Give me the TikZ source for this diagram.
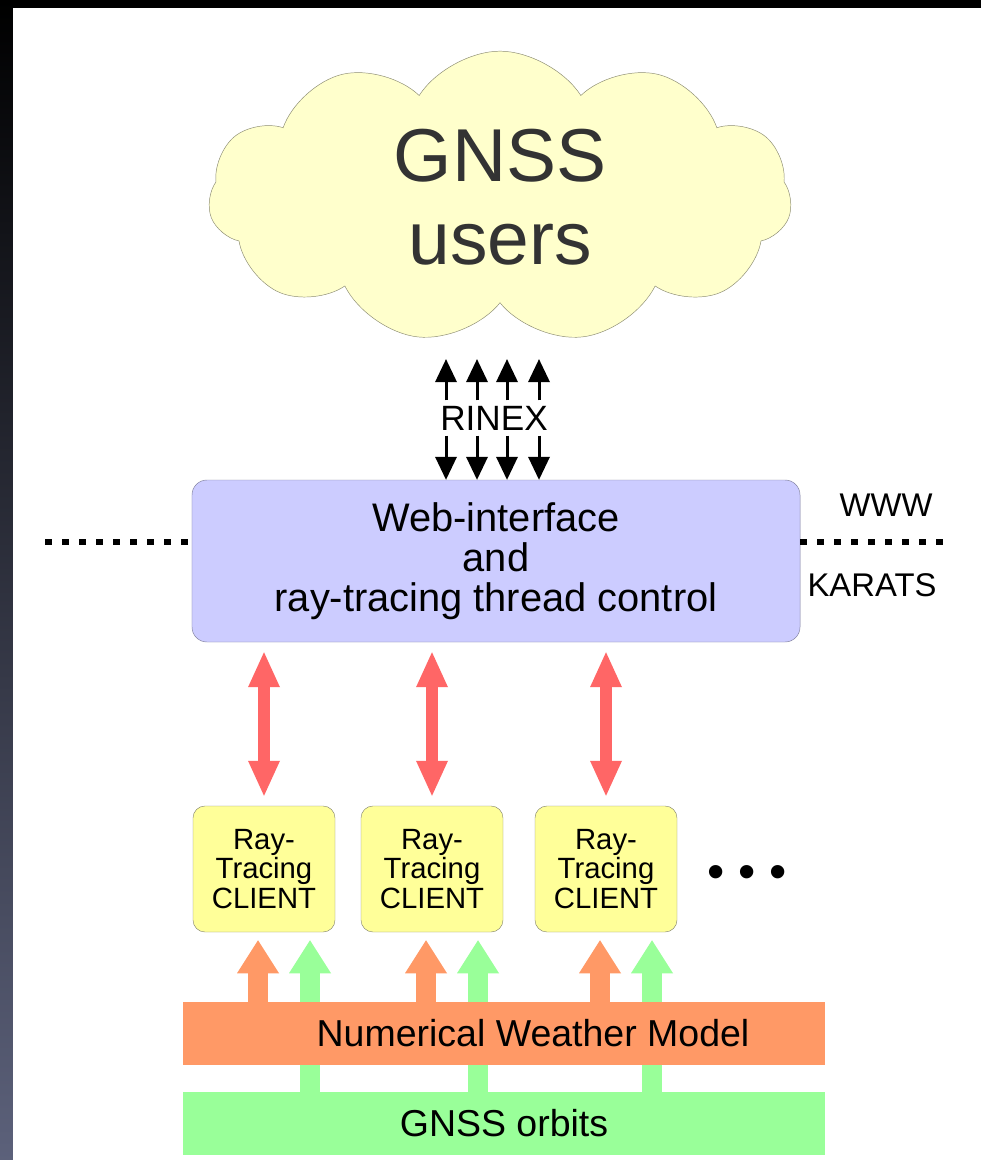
\documentclass[tikz,border=0pt]{standalone}
\usepackage{fontspec}
\setmainfont{Liberation Sans}
\usepackage{xcolor}
\usepackage{tikz}
\usetikzlibrary{shapes.symbols, arrows.meta, positioning}
\definecolor{mycloud}{rgb}{1.00, 1.00, 0.80}
\definecolor{myviolet}{rgb}{0.80, 0.80, 1.00}
\definecolor{myyellow}{rgb}{1.00, 1.00, 0.60}
\definecolor{myred}{rgb}{1.00, 0.40, 0.40}
\definecolor{myorange}{rgb}{1.00, 0.60, 0.40}
\definecolor{mygreen}{rgb}{0.60, 1.00, 0.60}
\definecolor{myedge}{rgb}{0.55, 0.55, 0.45}
\definecolor{myframe}{rgb}{0.50, 0.50, 0.62}
\definecolor{myband}{rgb}{0.36, 0.38, 0.48}
\definecolor{mynavy}{rgb}{0.10, 0.10, 0.25}
\tikzstyle{users} = [cloud, cloud puffs=11, cloud puff arc=115, cloud ignores aspect, minimum width=17.5cm, minimum height=8.75cm, inner sep=0pt, align=center, draw=myedge, fill=mycloud, text=black!80, font=\fontsize{64}{71}\selectfont]
\tikzstyle{server} = [rectangle, rounded corners=0.45cm, minimum width=18.24cm, minimum height=4.86cm, align=center, draw=myframe, fill=myviolet, font=\fontsize{34}{34}\selectfont]
\tikzstyle{client} = [rectangle, rounded corners=0.36cm, minimum width=4.26cm, minimum height=3.78cm, align=center, draw=myedge, fill=myyellow, font=\fontsize{25}{25.5}\selectfont]
\tikzstyle{bar} = [rectangle, minimum width=19.26cm, minimum height=1.89cm, inner sep=0pt, font=\fontsize{32}{34}\selectfont]
\tikzstyle{tag} = [inner sep=0pt, font=\fontsize{28}{30}\selectfont]
\tikzstyle{divider} = [line width=0.2cm, dash pattern=on 0.2cm off 0.31cm]
\tikzstyle{rinexarrow} = [line width=0.09cm, >={Triangle[length=0.69cm, width=0.66cm, line width=0pt]}, ->]
\tikzstyle{linkarrow} = [line width=0.36cm, myred, >={Triangle[length=1.05cm, width=0.96cm, line width=0pt]}, <->, shorten <=0.3cm, shorten >=0.3cm]
\tikzstyle{feedarrow} = [line width=0.6cm, >={Triangle[length=0.99cm, width=1.26cm, line width=0pt]}, ->, shorten >=0.24cm]

\begin{document}
\begin{tikzpicture}[x=0.03cm, y=-0.03cm]
    \fill[black] (0,0) rectangle (981,1160);
    \shade[top color=black, middle color=mynavy, bottom color=myband] (0,0) rectangle (13,1160);
    \fill[white] (13,8) rectangle (981,1160);

    \node[users] (cloud) at (500,197) {GNSS\\users};
    \node[inner sep=0pt, minimum height=1.05cm, font=\fontsize{30}{30}\selectfont] (rinex) at (494,418) {RINEX};
    \node[server] (web) at (496,561) {Web-interface\\and\\ray-tracing thread control};
    \node[tag] (www) at (886,505) {WWW};
    \node[tag] (karats) at (872,585) {KARATS};
    \coordinate (lend) at (45,542);
    \coordinate (rend) at (950,542);
    \draw[divider] (lend) -- (lend -| web.west);
    \draw[divider] (rend -| web.east) -- (rend);

    \foreach \x in {446,477,507,539} {
        \draw[rinexarrow, shorten >=1.68cm] (\x,0 |- rinex.north) -- (\x,0 |- cloud.south);
        \draw[rinexarrow] (\x,0 |- rinex.south) -- (\x,0 |- web.north);
    }

    \foreach \i/\x in {1/264,2/432,3/606} {
        \node[client] (cl\i) at (\x,869) {Ray-\\Tracing\\CLIENT};
        \draw[linkarrow] (cl\i.north |- web.south) -- (cl\i.north);
        \coordinate (o\i) at ([xshift=-0.18cm]cl\i.south);
        \coordinate (g\i) at ([xshift=1.38cm]cl\i.south);
    }
    \node[font=\fontsize{42}{42}\selectfont] (more) at (747,877) {• • •};

    \node[bar, fill=mygreen] (gnss) at (504,1123.5) {GNSS orbits};
    \foreach \i in {1,2,3} \draw[feedarrow, mygreen] (g\i |- gnss.north) -- (g\i);
    \node[bar, fill=myorange, label={[xshift=0.87cm, font=\fontsize{32}{34}\selectfont]center:Numerical Weather Model}] (nwm) at (504,1033.5) {};
    \foreach \i in {1,2,3} \draw[feedarrow, myorange] (o\i |- nwm.north) -- (o\i);
\end{tikzpicture}
\end{document}
